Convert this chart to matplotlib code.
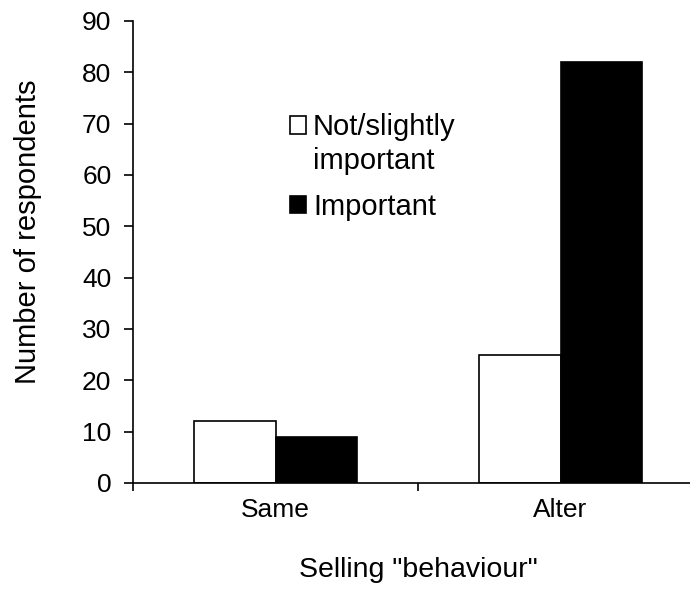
import matplotlib
matplotlib.use("Agg")
import matplotlib.pyplot as plt
from matplotlib.patches import Rectangle
from matplotlib.legend_handler import HandlerPatch
import numpy as np

plt.rcParams['font.family'] = ['Liberation Sans', 'DejaVu Sans']

categories = ['Same', 'Alter']
not_important = [12, 25]
important = [9, 82]
series_labels = ['Not/slightly\nimportant', 'Important']
yticks = list(range(0, 91, 10))

fig = plt.figure(figsize=(6.9, 5.89), dpi=100)
ax = fig.add_axes([133/690, 106/589, 570/690, 462/589])

x = np.arange(len(categories))
w = 0.286
b1 = ax.bar(x - w/2, not_important, w, color='white', edgecolor='black', linewidth=1.2, label=series_labels[0])
b2 = ax.bar(x + w/2, important, w, color='black', edgecolor='black', linewidth=1.2, label=series_labels[1])

ax.set_xlim(-0.5, 1.5)
ax.set_ylim(0, 90)
ax.set_yticks(yticks)
ax.set_xticks(x)
ax.set_xticklabels(categories, fontsize=19)
ax.tick_params(axis='x', which='major', length=0, pad=11)
ax.set_xticks([-0.5, 0.5, 1.5], minor=True)
ax.tick_params(axis='x', which='minor', length=6, width=1.2, direction='out')
ax.tick_params(axis='y', length=6.5, width=1.2, direction='out', labelsize=19, pad=9)

for s in ['top', 'right']:
    ax.spines[s].set_visible(False)
for s in ['left', 'bottom']:
    ax.spines[s].set_linewidth(1.2)

ax.set_ylabel('Number of respondents', fontsize=21, labelpad=29)
ax.yaxis.label.set_y(0.543)
ax.set_xlabel('Selling "behaviour"', fontsize=20.5, labelpad=25)


def top_patch(legend, orig_handle, xdescent, ydescent, width, height, fontsize):
    return Rectangle((-xdescent, -ydescent + 14.0), width, height)


def plain_patch(legend, orig_handle, xdescent, ydescent, width, height, fontsize):
    return Rectangle((-xdescent, -ydescent), width, height)


h1 = b1.patches[0]
h2 = b2.patches[0]
leg = ax.legend(handles=[h1, h2], labels=series_labels,
                loc='upper left', bbox_to_anchor=(0.2545, 0.827), frameon=False,
                fontsize=21, handlelength=0.55, handleheight=0.55,
                handletextpad=0.25, labelspacing=0.6, borderaxespad=0,
                handler_map={h1: HandlerPatch(patch_func=top_patch),
                             h2: HandlerPatch(patch_func=plain_patch)})
for t in leg.get_texts():
    t.set_linespacing(1.3)

fig.savefig('out.png', dpi=100)
